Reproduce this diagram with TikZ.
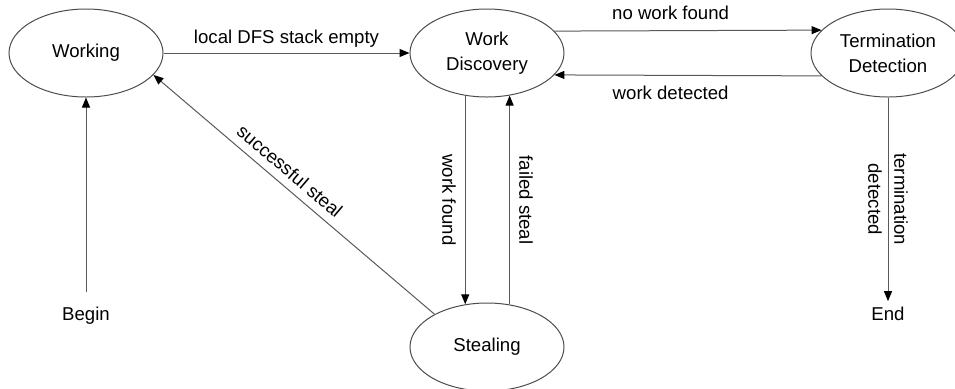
\documentclass[tikz,border=0pt]{standalone}
\usepackage{fontspec}
\setmainfont{Liberation Sans}
\usetikzlibrary{shapes.geometric,arrows.meta}
\tikzset{
  txt/.style={font=\fontsize{9.3}{12.5}\selectfont},
  state/.style={txt, ellipse, draw=black!70, line width=0.5pt,
    minimum width=77pt, minimum height=44pt, inner sep=0pt, align=center},
  terminal/.style={txt, inner sep=2.5pt},
  arr/.style={draw=black!65, line width=0.5pt,
    -{Triangle[length=5pt,width=4pt,color=black]}},
  lbl/.style={txt, inner sep=2.5pt},
}
\begin{document}
\begin{tikzpicture}[x=0.5pt,y=-0.5pt]
\useasboundingbox (0,0) rectangle (955,388);
% states
\node[state] (work)  at (86,53)   {Working};
\node[state] (disc)  at (487,53)  {Work\\Discovery};
\node[state] (term)  at (888,53)  {Termination\\Detection};
\node[state] (steal) at (487,347) {Stealing};
% start and end points
\node[terminal, inner ysep=7pt, anchor=base] (begin) at (86,320)  {Begin};
\node[terminal, anchor=base]                 (end)   at (888,320) {End};
% transitions
\draw[arr] (begin) -- (work);
\draw[arr] (work.east) -- node[lbl, above] {local DFS stack empty} (disc.west);
\draw[arr] (disc.18.4) -- node[lbl, above, pos=0.435, inner sep=5pt] {no work found} (term.161.6);
\draw[arr] (term.-161.6) -- node[lbl, below, pos=0.565, inner sep=5pt] {work detected} (disc.-18.4);
\draw[arr] (disc.-117.5) -- node[lbl, rotate=-90, anchor=north, inner sep=4.5pt] {work found} (steal.117.5);
\draw[arr] (steal.62.5) -- node[lbl, rotate=-90, anchor=south, inner sep=4.5pt] {failed steal} (disc.-62.5);
\draw[arr] (steal.148.3) -- node[lbl, sloped, above, pos=0.55, inner sep=4pt] {successful steal} (work.-18.8);
\draw[arr] (term) -- node[lbl, rotate=-90, align=center, font=\fontsize{9.3}{13}\selectfont] {termination\\detected} (end);
\end{tikzpicture}
\end{document}
